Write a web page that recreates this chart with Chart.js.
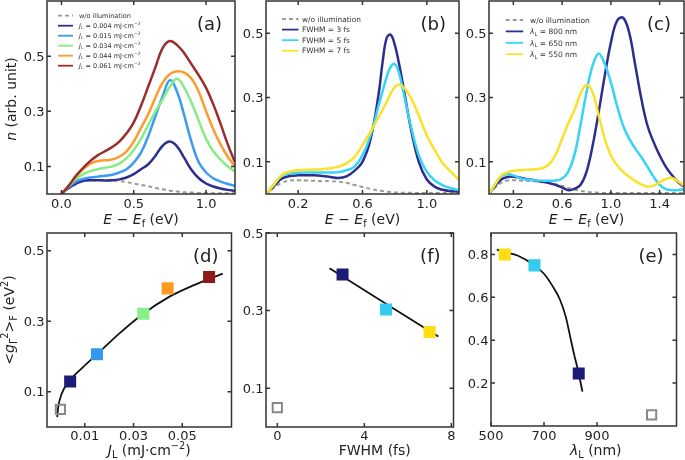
<!DOCTYPE html>
<html>
<head>
<meta charset="utf-8">
<script src="https://cdn.jsdelivr.net/npm/chart.js@4.4.1/dist/chart.umd.min.js"></script>
<style>
  body { margin: 0; background: #fff; }
  #wrap { position: relative; width: 685px; height: 460px; overflow: hidden; background: #fff; }
  canvas { position: absolute; }
</style>
</head>
<body>
<div id="wrap">
  <canvas id="pa" width="240" height="232" style="left:0;top:0"></canvas>
  <canvas id="pb" width="222" height="232" style="left:240px;top:0"></canvas>
  <canvas id="pc" width="223" height="232" style="left:462px;top:0"></canvas>
  <canvas id="pd" width="240" height="238" style="left:0;top:222px"></canvas>
  <canvas id="pf" width="222" height="238" style="left:240px;top:222px"></canvas>
  <canvas id="pe" width="223" height="238" style="left:462px;top:222px"></canvas>
</div>
<script>
// energy grids (eV)
const gridE12 = [0, 0.05, 0.1, 0.15, 0.2, 0.25, 0.3, 0.35, 0.4, 0.45, 0.5, 0.55, 0.6, 0.65, 0.7, 0.75, 0.8, 0.85, 0.9, 0.95, 1.0, 1.05, 1.1, 1.15, 1.2];
const gridB = [0, 0.05, 0.1, 0.15, 0.2, 0.25, 0.3, 0.35, 0.4, 0.45, 0.5, 0.55, 0.6, 0.65, 0.7, 0.725, 0.75, 0.775, 0.8, 0.825, 0.85, 0.9, 0.95, 1.0, 1.05, 1.1, 1.15, 1.2];
const gridE16 = [0, 0.05, 0.1, 0.15, 0.2, 0.25, 0.3, 0.35, 0.4, 0.45, 0.5, 0.55, 0.6, 0.65, 0.7, 0.75, 0.8, 0.85, 0.9, 0.95, 1.0, 1.05, 1.1, 1.15, 1.2, 1.25, 1.3, 1.35, 1.4, 1.45, 1.5, 1.55, 1.6];

// (a) fluence series
const aDark = [0, 0.02, 0.035, 0.045, 0.05, 0.05, 0.05, 0.049, 0.047, 0.043, 0.038, 0.033, 0.028, 0.022, 0.017, 0.012, 0.009, 0.006, 0.005, 0.004, 0.003, 0.003, 0.003, 0.003, 0.003];
const aJ004 = [0, 0.022, 0.038, 0.048, 0.05, 0.05, 0.049, 0.05, 0.053, 0.06, 0.072, 0.09, 0.108, 0.139, 0.175, 0.19, 0.172, 0.13, 0.087, 0.057, 0.038, 0.027, 0.02, 0.015, 0.012];
const aJ015 = [0, 0.025, 0.045, 0.055, 0.06, 0.063, 0.066, 0.07, 0.078, 0.09, 0.114, 0.15, 0.21, 0.283, 0.355, 0.413, 0.37, 0.283, 0.187, 0.114, 0.078, 0.057, 0.045, 0.036, 0.03];
const aJ034 = [0, 0.03, 0.055, 0.072, 0.083, 0.09, 0.095, 0.1, 0.11, 0.13, 0.16, 0.2, 0.25, 0.3, 0.343, 0.39, 0.418, 0.385, 0.33, 0.265, 0.2, 0.155, 0.125, 0.1, 0.082];
const aJ044 = [0, 0.03, 0.062, 0.09, 0.11, 0.12, 0.122, 0.125, 0.135, 0.155, 0.19, 0.24, 0.289, 0.35, 0.404, 0.435, 0.445, 0.44, 0.418, 0.37, 0.3, 0.235, 0.18, 0.135, 0.1];
const aJ061 = [0, 0.03, 0.066, 0.095, 0.12, 0.14, 0.155, 0.17, 0.19, 0.22, 0.26, 0.32, 0.39, 0.46, 0.53, 0.555, 0.54, 0.51, 0.47, 0.43, 0.385, 0.325, 0.255, 0.18, 0.115];

// (b) pulse width series
const bDark = [0, 0.02, 0.035, 0.042, 0.043, 0.042, 0.041, 0.04, 0.04, 0.038, 0.035, 0.028, 0.022, 0.016, 0.011, 0.009, 0.007, 0.006, 0.005, 0.0045, 0.004, 0.004, 0.003, 0.003, 0.003, 0.003, 0.003, 0.003];
const b3fs = [0, 0.025, 0.048, 0.056, 0.058, 0.058, 0.058, 0.056, 0.053, 0.05, 0.055, 0.072, 0.1, 0.17, 0.31, 0.41, 0.485, 0.495, 0.465, 0.41, 0.345, 0.205, 0.1, 0.045, 0.022, 0.013, 0.009, 0.007];
const b5fs = [0, 0.03, 0.058, 0.064, 0.066, 0.067, 0.067, 0.067, 0.067, 0.068, 0.074, 0.085, 0.12, 0.182, 0.275, 0.32, 0.363, 0.395, 0.404, 0.38, 0.327, 0.213, 0.12, 0.069, 0.042, 0.027, 0.018, 0.012];
const b7fs = [0, 0.03, 0.06, 0.07, 0.074, 0.075, 0.076, 0.077, 0.08, 0.085, 0.095, 0.115, 0.152, 0.193, 0.239, 0.262, 0.286, 0.312, 0.332, 0.34, 0.335, 0.3, 0.244, 0.182, 0.136, 0.095, 0.069, 0.043];

// (c) wavelength series
const cDark = [0, 0.02, 0.035, 0.042, 0.043, 0.042, 0.041, 0.04, 0.039, 0.037, 0.034, 0.03, 0.025, 0.019, 0.014, 0.01, 0.007, 0.005, 0.004, 0.003, 0.003, 0.003, 0.003, 0.003, 0.003, 0.003, 0.003, 0.003, 0.003, 0.003, 0.003, 0.003, 0.003];
const c800 = [0, 0.025, 0.045, 0.053, 0.054, 0.051, 0.047, 0.044, 0.04, 0.037, 0.033, 0.028, 0.02, 0.012, 0.016, 0.028, 0.069, 0.15, 0.255, 0.368, 0.47, 0.538, 0.548, 0.502, 0.4, 0.296, 0.213, 0.162, 0.12, 0.085, 0.059, 0.038, 0.023];
const c650 = [0, 0.03, 0.055, 0.062, 0.058, 0.05, 0.045, 0.043, 0.042, 0.041, 0.041, 0.042, 0.048, 0.069, 0.12, 0.213, 0.316, 0.399, 0.437, 0.404, 0.347, 0.275, 0.213, 0.172, 0.141, 0.115, 0.085, 0.054, 0.028, 0.015, 0.012, 0.012, 0.015];
const c550 = [0, 0.03, 0.058, 0.067, 0.072, 0.074, 0.075, 0.076, 0.078, 0.082, 0.095, 0.125, 0.172, 0.219, 0.26, 0.311, 0.339, 0.316, 0.244, 0.172, 0.12, 0.09, 0.069, 0.054, 0.04, 0.03, 0.023, 0.026, 0.036, 0.046, 0.05, 0.04, 0.026];

// (d) <g^2> vs fluence
const dJ = [0.004, 0.015, 0.034, 0.044, 0.061];
const dG = [0.129, 0.206, 0.321, 0.393, 0.425];
const dDarkJ = [0];
const dDarkG = [0.05];
const dFitJ = [-0.0013, -0.0009, 0.0005, 0.0035, 0.0093, 0.015, 0.024, 0.034, 0.0446, 0.054, 0.0666];
const dFitG = [0.028, 0.056, 0.094, 0.129, 0.17, 0.206, 0.264, 0.321, 0.369, 0.4, 0.435];

// (f) <g^2> vs FWHM
const fW = [3, 5, 7];
const fG = [0.393, 0.303, 0.245];
const fDarkW = [0];
const fDarkG = [0.05];
const fFitW = [2.4, 7.4];
const fFitG = [0.409, 0.233];

// (e) <g^2> vs wavelength
const eL = [552, 664, 831];
const eG = [0.8, 0.749, 0.245];
const eDarkL = [1106];
const eDarkG = [0.052];
const eFitL = [522, 552, 600, 664, 700, 733, 760, 782, 800, 812, 831, 845];
const eFitG = [0.822, 0.81, 0.795, 0.749, 0.71, 0.651, 0.59, 0.51, 0.41, 0.342, 0.245, 0.16];

// ticks
const aXTicks = [0, 0.5, 1.0], aXLabels = ['0.0', '0.5', '1.0'];
const bXTicks = [0.2, 0.6, 1.0], bXLabels = ['0.2', '0.6', '1.0'];
const cXTicks = [0.2, 0.6, 1.0, 1.4], cXLabels = ['0.2', '0.6', '1.0', '1.4'];
const nYTicks = [0.1, 0.3, 0.5], nYLabels = ['0.1', '0.3', '0.5'];
const dXTicks = [0.01, 0.03, 0.05], dXLabels = ['0.01', '0.03', '0.05'];
const fXTicks = [0, 4, 8], fXLabels = ['0', '4', '8'];
const eXTicks = [500, 700, 900], eXLabels = ['500', '700', '900'];
const eYTicks = [0.2, 0.4, 0.6, 0.8], eYLabels = ['0.2', '0.4', '0.6', '0.8'];

const FONT = '"DejaVu Sans", sans-serif';
const NAVY = '#2d2f8e', BLUE = '#3a9cf2', GREEN = '#86ec86', ORANGE = '#ff9b2e',
      DRED = '#9b2d2d', CYAN = '#38d3f5', YELLOW = '#fde02a', GRAY = '#9a9a9a';

function richText(ctx, parts, x, y, size, align, color) {
  const segs = parts.map(p => {
    const s = p[1] || '';
    const small = s.includes('b') || s.includes('p');
    const font = (s.includes('i') ? 'italic ' : '') + (small ? size * 0.7 : size) + 'px ' + FONT;
    ctx.font = font;
    const dy = s.includes('b') ? size * 0.22 : s.includes('p') ? -size * 0.4 : 0;
    return {t: p[0], font, dy, w: ctx.measureText(p[0]).width};
  });
  const total = segs.reduce((a, s) => a + s.w, 0);
  let cx = align === 'center' ? x - total / 2 : align === 'right' ? x - total : x;
  ctx.fillStyle = color;
  ctx.textAlign = 'left';
  ctx.textBaseline = 'alphabetic';
  for (const s of segs) {
    ctx.font = s.font;
    ctx.fillText(s.t, cx, y + s.dy);
    cx += s.w;
  }
}

const framePlugin = {
  id: 'frame',
  afterDraw(chart, args, o) {
    const {ctx, chartArea: a} = chart;
    const x = chart.scales.x, y = chart.scales.y;
    ctx.save();
    ctx.strokeStyle = '#333';
    ctx.lineWidth = 1.5;
    ctx.setLineDash([]);
    ctx.strokeRect(a.left, a.top, a.right - a.left, a.bottom - a.top);
    ctx.beginPath();
    x.ticks.forEach(t => {
      const px = x.getPixelForValue(t.value);
      ctx.moveTo(px, a.bottom); ctx.lineTo(px, a.bottom - 4);
      ctx.moveTo(px, a.top); ctx.lineTo(px, a.top + 4);
    });
    y.ticks.forEach(t => {
      const py = y.getPixelForValue(t.value);
      ctx.moveTo(a.left, py); ctx.lineTo(a.left + 4, py);
      ctx.moveTo(a.right, py); ctx.lineTo(a.right - 4, py);
    });
    ctx.stroke();

    // tick labels
    ctx.fillStyle = '#222';
    ctx.font = '13px ' + FONT;
    ctx.textBaseline = 'alphabetic';
    ctx.textAlign = 'center';
    x.ticks.forEach(t => ctx.fillText(t.label, x.getPixelForValue(t.value), a.bottom + o.xLabelDy));
    ctx.textAlign = 'right';
    y.ticks.forEach(t => ctx.fillText(t.label, a.left - 2.5, y.getPixelForValue(t.value) + 4.7));

    // panel tag
    ctx.font = '18px ' + FONT;
    ctx.textAlign = 'right';
    ctx.fillText(o.tag, a.right - 13, a.top + 28.5);

    // axis titles
    if (o.xTitle) richText(ctx, o.xTitle, (a.left + a.right) / 2 + (o.xTitleDx || 0), o.xTitleY, 14, 'center', '#222');
    if (o.yTitle) {
      ctx.save();
      ctx.translate(o.yTitleX, o.yTitleY);
      ctx.rotate(-Math.PI / 2);
      richText(ctx, o.yTitle, 0, 0, 14, 'center', '#222');
      ctx.restore();
    }

    // legend
    if (o.legend) {
      const lg = o.legend;
      lg.labels.forEach((parts, i) => {
        const ds = chart.data.datasets[i];
        const ly = a.top + lg.y0 + i * lg.dy;
        ctx.strokeStyle = ds.borderColor;
        ctx.lineWidth = 1.8;
        ctx.setLineDash(ds.borderDash || []);
        ctx.beginPath();
        ctx.moveTo(a.left + lg.x0, ly);
        ctx.lineTo(a.left + lg.x0 + lg.len, ly);
        ctx.stroke();
        ctx.setLineDash([]);
        richText(ctx, parts, a.left + lg.tx, ly + lg.size * 0.36, lg.size, 'left', '#333');
      });
    }
    ctx.restore();
  }
};

function axis(min, max, vals, labels, isX, fit) {
  return {
    type: 'linear', min, max,
    grid: {display: false},
    border: {display: false},
    afterBuildTicks: s => { s.ticks = vals.map(v => ({value: v})); },
    afterFit: s => {
      if (isX) s.height = fit; else s.width = fit;
      s.paddingLeft = 0; s.paddingRight = 0; s.paddingTop = 0; s.paddingBottom = 0;
    },
    ticks: {display: false, autoSkip: false, maxRotation: 0, minRotation: 0, callback: (v, i) => labels[i]}
  };
}

function curve(xs, ys, color, i, n, dash) {
  return {
    data: xs.map((x, k) => ({x, y: ys[k]})),
    showLine: true, pointRadius: 0,
    borderColor: color, borderWidth: dash ? 2 : 2.5,
    borderDash: dash || [], tension: 0.4,
    order: n - i
  };
}

function markers(xs, ys, colors) {
  return {
    data: xs.map((x, k) => ({x, y: ys[k]})),
    pointStyle: 'rect', pointRadius: 8.5,
    pointBackgroundColor: colors, pointBorderColor: colors, pointBorderWidth: 0,
    order: 1
  };
}

function openMarker(xs, ys) {
  return {
    data: xs.map((x, k) => ({x, y: ys[k]})),
    pointStyle: 'rect', pointRadius: 6.5,
    pointBackgroundColor: 'rgba(255,255,255,0)', pointBorderColor: '#888', pointBorderWidth: 2,
    order: 0
  };
}

function fitLine(xs, ys) {
  return {
    data: xs.map((x, k) => ({x, y: ys[k]})),
    showLine: true, pointRadius: 0, borderColor: '#111', borderWidth: 1.8,
    cubicInterpolationMode: 'monotone', order: 5
  };
}

function panel(id, o) {
  return new Chart(document.getElementById(id), {
    type: 'scatter',
    data: {datasets: o.datasets},
    options: {
      responsive: false, animation: false, events: [],
      layout: {padding: {top: o.padTop, right: o.padRight, left: 0, bottom: 0}},
      scales: {x: o.x, y: o.y},
      plugins: {legend: {display: false}, tooltip: {enabled: false}, frame: o.frame}
    },
    plugins: [framePlugin]
  });
}

const eTitle = [['E', 'i'], [' \u2212 '], ['E', 'i'], ['f', 'b'], [' (eV)']];
const jl = v => [['J', 'i'], ['L', 'b'], [' = ' + v + ' mJ\u00b7cm'], ['\u22122', 'p']];
const lam = v => [['\u03bb', 'i'], ['L', 'b'], [' = ' + v + ' nm']];

panel('pa', {
  padTop: 1, padRight: 5,
  x: axis(-0.1, 1.2, aXTicks, aXLabels, true, 38),
  y: axis(0, 0.7, nYTicks, nYLabels, false, 47),
  datasets: [
    curve(gridE12, aDark, GRAY, 0, 6, [4, 3]),
    curve(gridE12, aJ004, NAVY, 1, 6),
    curve(gridE12, aJ015, BLUE, 2, 6),
    curve(gridE12, aJ034, GREEN, 3, 6),
    curve(gridE12, aJ044, ORANGE, 4, 6),
    curve(gridE12, aJ061, DRED, 5, 6)
  ],
  frame: {
    tag: '(a)', xLabelDy: 14.3, xTitle: eTitle, xTitleY: 224,
    yTitle: [['n', 'i'], [' (arb. unit)']], yTitleX: 15.5, yTitleY: 99,
    legend: {x0: 11, len: 15, tx: 32, y0: 14.7, dy: 10, size: 6.5,
      labels: [[['w/o illumination']], jl('0.004'), jl('0.015'), jl('0.034'), jl('0.044'), jl('0.061')]}
  }
});

panel('pb', {
  padTop: 1, padRight: 3,
  x: axis(0, 1.2, bXTicks, bXLabels, true, 38),
  y: axis(0, 0.6, nYTicks, nYLabels, false, 26),
  datasets: [
    curve(gridB, bDark, GRAY, 0, 4, [4, 3]),
    curve(gridB, b3fs, NAVY, 1, 4),
    curve(gridB, b5fs, CYAN, 2, 4),
    curve(gridB, b7fs, YELLOW, 3, 4)
  ],
  frame: {
    tag: '(b)', xLabelDy: 14.3, xTitle: eTitle, xTitleY: 224,
    legend: {x0: 16, len: 16.5, tx: 36, y0: 18, dy: 10.6, size: 7.4,
      labels: [[['w/o illumination']], [['FWHM = 3 fs']], [['FWHM = 5 fs']], [['FWHM = 7 fs']]]}
  }
});

panel('pc', {
  padTop: 1, padRight: 1,
  x: axis(0, 1.6, cXTicks, cXLabels, true, 38),
  y: axis(0, 0.6, nYTicks, nYLabels, false, 27),
  datasets: [
    curve(gridE16, cDark, GRAY, 0, 4, [4, 3]),
    curve(gridE16, c800, NAVY, 1, 4),
    curve(gridE16, c650, CYAN, 2, 4),
    curve(gridE16, c550, YELLOW, 3, 4)
  ],
  frame: {
    tag: '(c)', xLabelDy: 14.3, xTitle: eTitle, xTitleY: 224,
    legend: {x0: 16.7, len: 17.5, tx: 41, y0: 19, dy: 11.4, size: 7.5,
      labels: [[['w/o illumination']], lam('800'), lam('650'), lam('550')]}
  }
});

panel('pd', {
  padTop: 11, padRight: 7,
  x: axis(-0.0055, 0.0702, dXTicks, dXLabels, true, 33),
  y: axis(0, 0.55, nYTicks, nYLabels, false, 47),
  datasets: [
    markers(dJ, dG, ['#1c1c78', '#3399ee', '#88ee88', '#ff9922', '#8e1b1b']),
    openMarker(dDarkJ, dDarkG),
    fitLine(dFitJ, dFitG)
  ],
  frame: {
    tag: '(d)', xLabelDy: 13,
    xTitle: [['J', 'i'], ['L', 'b'], [' (mJ\u00b7cm'], ['\u22122', 'p'], [')']], xTitleY: 232.5, xTitleDx: 10,
    yTitle: [['<'], ['g', 'i'], ['\u0393', 'b'], ['2', 'p'], ['>'], ['F', 'b'], [' (eV'], ['2', 'p'], [')']],
    yTitleX: 14, yTitleY: 98
  }
});

panel('pf', {
  padTop: 11, padRight: 4,
  x: axis(-0.52, 8.1, fXTicks, fXLabels, true, 33),
  y: axis(0, 0.5, nYTicks, nYLabels, false, 26),
  datasets: [
    markers(fW, fG, ['#1c1c78', '#33ccee', '#ffdd11']),
    openMarker(fDarkW, fDarkG),
    fitLine(fFitW, fFitG)
  ],
  frame: {tag: '(f)', xLabelDy: 13, xTitle: [['FWHM (fs)']], xTitleY: 232.5, xTitleDx: 15}
});

panel('pe', {
  padTop: 11, padRight: 1,
  x: axis(500, 1200, eXTicks, eXLabels, true, 34),
  y: axis(0, 0.9, eYTicks, eYLabels, false, 29),
  datasets: [
    markers(eL, eG, ['#ffdd11', '#33ccee', '#1c1c78']),
    openMarker(eDarkL, eDarkG),
    fitLine(eFitL, eFitG)
  ],
  frame: {tag: '(e)', xLabelDy: 14, xTitle: [['\u03bb', 'i'], ['L', 'b'], [' (nm)']], xTitleY: 232.5, xTitleDx: 12}
});
</script>
</body>
</html>
